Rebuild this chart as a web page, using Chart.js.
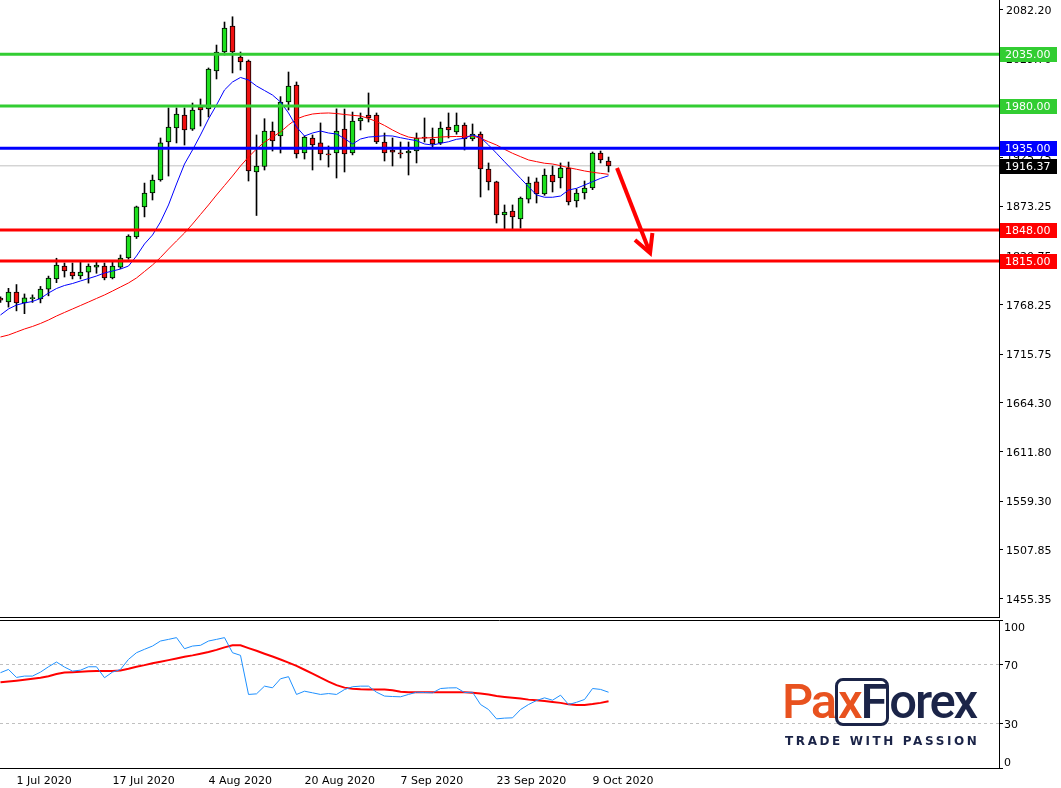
<!DOCTYPE html>
<html>
<head>
<meta charset="utf-8">
<script src="https://cdn.jsdelivr.net/npm/chart.js@4.4.1/dist/chart.umd.min.js"></script>
<style>
  html, body { margin: 0; padding: 0; background: #fff; }
  #wrap { position: relative; width: 1061px; height: 788px; overflow: hidden; }
  #main { position: absolute; left: 0; top: 0; }
  #osc { position: absolute; left: 0; top: 620px; }
  #logo { position: absolute; left: 782px; top: 674px; font: 500 49px Roboto, sans-serif; letter-spacing: -2.2px; line-height: 56px; white-space: nowrap; }
  #logo .o { color: #e8521f; }
  #logo .n { color: #1b2448; }
  #logo .box { display: inline-block; border: 3px solid #1b2448; border-radius: 8px; line-height: 42px; padding: 0 1px 0 0; }
  #tag { position: absolute; left: 785px; top: 734px; font: bold 12px "DejaVu Sans", sans-serif; letter-spacing: 2.6px; color: #1b2448; white-space: nowrap; }
</style>
</head>
<body>
<div id="wrap">
  <canvas id="main" width="1061" height="618"></canvas>
  <canvas id="osc" width="1061" height="168"></canvas>
  <div id="logo"><span class="o">Pa</span><span class="box"><span class="o">x</span><span class="n">F</span></span><span class="n">orex</span></div>
  <div id="tag">TRADE WITH PASSION</div>
</div>
<script>
// daily XAUUSD bars, 29 Jun 2020 .. 13 Oct 2020
const barOpen = [1775.5, 1771.5, 1782, 1770.5, 1775, 1774.6, 1785.2, 1795.9, 1809.7, 1803.3,
  1799.1, 1803.3, 1808.6, 1809.7, 1797, 1808.6, 1818.3, 1840.6, 1872.6, 1887.4,
  1901.3, 1941.7, 1956.6, 1970.4, 1955.5, 1978.9, 1976.8, 2017.3, 2037.5, 2065.2,
  2032.2, 2027.9, 1909.8, 1915.6, 1953.4, 1948.1, 1984.3, 2002.4, 1930, 1946,
  1940.7, 1928.5, 1930, 1955.5, 1930, 1964.1, 1970.4, 1970.4, 1941.7, 1933.2,
  1930, 1930, 1932.1, 1947, 1944.9, 1940.7, 1957.7, 1952.4, 1959.8, 1944.9,
  1950.2, 1913, 1899.2, 1864.1, 1868.3, 1859.8, 1881, 1899.2, 1886.4, 1906.6,
  1903.4, 1914, 1879, 1887.4, 1892.8, 1930, 1921.5];
const barHigh = [1777, 1786, 1790, 1780, 1779, 1788, 1799, 1818, 1813, 1813,
  1814, 1812, 1814, 1813, 1814, 1821.5, 1843, 1873.5, 1898, 1906.6,
  1946, 1978, 1978, 1978, 1983.2, 1987.5, 2020.5, 2044.9, 2069.4, 2075,
  2037.5, 2029, 1949.2, 1966.5, 1963, 1990, 2016.2, 2005.6, 1948, 1949.2,
  1962, 1937.5, 1977, 1976.8, 1973.6, 1972.6, 1993.9, 1972.6, 1951.3, 1946,
  1941.7, 1941.7, 1951.3, 1967.3, 1956.6, 1963, 1972.6, 1972.6, 1962, 1960.9,
  1952.4, 1919.4, 1900, 1874.7, 1874.7, 1883.2, 1904.5, 1903.4, 1913, 1916.2,
  1919.4, 1920.4, 1891.7, 1900.2, 1931.1, 1932.1, 1925.7];
const barLow = [1771, 1766, 1762, 1759, 1771, 1770.5, 1778, 1792, 1798, 1796,
  1796, 1791.6, 1802, 1795, 1796, 1807, 1817, 1839, 1862, 1880,
  1900, 1905.5, 1940.7, 1938.5, 1954, 1958.7, 1968.3, 2008.8, 2034.3, 2015.2,
  2018.3, 1900.2, 1863.5, 1911.9, 1932.1, 1930, 1975.8, 1924.7, 1923.6, 1911.9,
  1922.6, 1915.1, 1903.4, 1909.8, 1928, 1954.5, 1963, 1940, 1921.5, 1916.2,
  1924.7, 1906.6, 1919.4, 1941.7, 1936.4, 1939, 1946, 1950, 1933.2, 1943,
  1883.2, 1890.6, 1855.5, 1849.1, 1849.1, 1850, 1876.8, 1876.8, 1885, 1888.5,
  1892.8, 1874.7, 1872.5, 1881, 1891, 1919.4, 1909.8];
const barClose = [1773.5, 1782, 1770.5, 1775.8, 1775.3, 1785.2, 1797, 1810.8, 1804.4, 1799.1,
  1803.3, 1809.7, 1810.8, 1797, 1809.7, 1818.3, 1841.7, 1872.6, 1887.4, 1901.3,
  1940.7, 1957.7, 1971.5, 1954.5, 1975.8, 1975.8, 2019.4, 2037.5, 2063, 2037.5,
  2026.9, 1910.9, 1916.2, 1953.4, 1942.8, 1984.3, 2001.3, 1929, 1947, 1938.5,
  1929, 1928, 1953.4, 1929, 1964, 1967.3, 1967.3, 1941.7, 1930, 1931,
  1929, 1932.1, 1946, 1945.9, 1939.6, 1956.6, 1954.5, 1959.8, 1944.9, 1950.2,
  1913, 1899.2, 1864.1, 1867.2, 1861.9, 1882.1, 1898.1, 1886.4, 1906.6, 1899.2,
  1914, 1877.9, 1887.4, 1892.8, 1930, 1922.6, 1916.37];

// moving averages on price (blue fast, red slow)
const maFast = [1757.6, 1764, 1768.2, 1770.4, 1772, 1775.2, 1781, 1785.8, 1789, 1791.1,
  1793.8, 1796.4, 1799.1, 1802.3, 1804.4, 1806.5, 1809.7, 1820.4, 1833.2, 1842.7,
  1856.6, 1874.7, 1897, 1918.3, 1933.2, 1949.2, 1966.2, 1981.1, 1997.1, 2005.6,
  2010.4, 2007.7, 2001.3, 1996.5, 1991.7, 1984.3, 1972.6, 1957.7, 1948.1, 1951.3,
  1953.4, 1951.3, 1950.2, 1945.4, 1939.6, 1944.9, 1947, 1947.6, 1948.4, 1948.1,
  1946.3, 1944.6, 1943.1, 1939.6, 1938.5, 1940.3, 1942, 1944.6, 1945.7, 1949.2,
  1946.5, 1938.5, 1929.7, 1920.7, 1911.9, 1903, 1894.1, 1885.3, 1882.9, 1882.9,
  1884.2, 1890.6, 1892.4, 1895.9, 1899.5, 1903, 1905.8];
const maSlow = [1734.2, 1736.3, 1739.5, 1742.7, 1745.4, 1748.6, 1752.3, 1756.5, 1760.3, 1764,
  1767.7, 1771.4, 1775.2, 1778.9, 1783.1, 1787.4, 1791.7, 1797, 1803.9, 1810.8,
  1818.8, 1827.8, 1836.4, 1844.9, 1854.4, 1864.6, 1874.7, 1885.3, 1895.4, 1905.5,
  1916.2, 1925.7, 1934.3, 1941.7, 1947, 1952.4, 1959.8, 1966.2, 1969.4, 1971.5,
  1972.3, 1972.6, 1972, 1971, 1970.1, 1969.4, 1966.7, 1963.5, 1959.3, 1954.5,
  1950.2, 1947, 1945.7, 1946, 1946.3, 1947, 1947.4, 1947.6, 1947.4, 1948.1,
  1945.7, 1942, 1938.5, 1933.9, 1929.7, 1926.1, 1922.6, 1920.8, 1919.1, 1918.3,
  1916.5, 1914.4, 1912.7, 1910.9, 1909.5, 1908.4, 1907.3];

// oscillator panel
const oscMain = [64.4, 66.6, 61.2, 62.1, 62.1, 64.8, 68.4, 71.6, 68.2, 65.5,
  66.1, 68.4, 68.4, 61, 64.8, 66.6, 73.4, 77.9, 80.2, 82.4,
  85.8, 86.9, 88.1, 80.6, 82.4, 82.9, 85.8, 86.9, 88.1, 77.9,
  76.1, 49.7, 50.1, 55.3, 54.2, 60.3, 61.7, 49.7, 51.9, 50.8,
  49.7, 50.3, 49.7, 53, 54.9, 55.3, 55.3, 51.2, 48.6, 48.3,
  48.1, 49.7, 51.2, 51, 50.8, 53.7, 54.1, 54.2, 51, 51.2,
  42.9, 39.5, 33.2, 33.7, 33.9, 39.5, 42.9, 45.6, 47.4, 45.8,
  49.2, 42.9, 44.4, 46.3, 53.7, 53.1, 51.2];
const oscSignal = [58, 58.5, 59, 59.6, 60.3, 61, 62, 63.5, 64.5, 64.7,
  65, 65.3, 65.5, 65.5, 65.6, 65.9, 67, 68.4, 69.5, 70.8,
  71.8, 72.9, 74, 75.2, 76.1, 77.2, 78.4, 79.8, 81.5, 82.9,
  82.9, 81, 79.2, 77.2, 75.3, 73.3, 71.2, 69, 66.4, 63.8,
  61, 58.4, 56, 54.3, 53.6, 53.2, 53.1, 53.1, 53, 52.5,
  51.5, 51.2, 51.2, 51.2, 51.2, 51.2, 51.2, 51.2, 51.2, 50.8,
  50.3, 49.6, 48.6, 48, 47.5, 47, 46.2, 45.7, 45.2, 44.6,
  44, 43, 42.5, 42.6, 43.2, 44, 45.1];

const priceTicks = [2082.20, 2029.70, 1977.20, 1925.75, 1873.25, 1820.75, 1768.25,
  1715.75, 1664.30, 1611.80, 1559.30, 1507.85, 1455.35];
const oscTicks = [0, 30, 70, 100];
const oscLevels = [30, 70];
const dateTickIndex = [2, 14, 26, 38, 50, 62, 74];
const dateTickLabels = ['1 Jul 2020', '17 Jul 2020', '4 Aug 2020', '20 Aug 2020',
  '7 Sep 2020', '23 Sep 2020', '9 Oct 2020'];

const resistanceLevels = [2035.00, 1980.00];
const pivotLevel = 1935.00;
const supportLevels = [1848.00, 1815.00];
const lastPrice = 1916.37;
const arrowShaft = [[77.06, 1914.05], [81.19, 1823.6]];
const arrowHead = [[79.3, 1837.5], [81.19, 1823.6], [81.48, 1844.8]];

const GREEN = '#32cd32';
const BLUE = '#0000ff';
const RED = '#ff0000';
const FONT = { family: '"DejaVu Sans", sans-serif', size: 11 };
const X_MIN = -0.06, X_MAX = 124.8;

const pts = arr => arr.map((v, i) => ({ x: i, y: v }));
const hline = (v, color, w) => ({
  type: 'line', data: [{ x: X_MIN - 1, y: v }, { x: X_MAX + 1, y: v }],
  borderColor: color, borderWidth: w, pointRadius: 0
});
// no extra padding for the end labels, MT4 lets them sit on the frame
const noEdgePadding = s => { s.width = 62; s.paddingTop = 0; s.paddingBottom = 0; };

const priceTags = {
  id: 'priceTags',
  afterDraw(chart) {
    const y = chart.scales.y, ctx = chart.ctx;
    const tags = [
      [resistanceLevels[0], GREEN], [resistanceLevels[1], GREEN],
      [pivotLevel, BLUE], [lastPrice, '#000'],
      [supportLevels[0], RED], [supportLevels[1], RED]
    ];
    ctx.save();
    ctx.font = '11px "DejaVu Sans"';
    ctx.textBaseline = 'middle';
    tags.forEach(([v, c]) => {
      const py = Math.round(y.getPixelForValue(v));
      ctx.fillStyle = c;
      ctx.fillRect(y.left + 1, py - 7, 57, 15);
      ctx.fillStyle = '#fff';
      ctx.fillText(v.toFixed(2), y.left + 6, py + 1);
    });
    ctx.restore();
  }
};

const topBorder = {
  id: 'topBorder',
  afterDraw(chart) {
    const a = chart.chartArea, ctx = chart.ctx;
    ctx.save();
    ctx.strokeStyle = '#000';
    ctx.lineWidth = 1;
    ctx.beginPath();
    ctx.moveTo(0, a.top + 0.5);
    ctx.lineTo(a.right, a.top + 0.5);
    ctx.stroke();
    ctx.restore();
  }
};

const xHidden = {
  type: 'linear', min: X_MIN, max: X_MAX, offset: false,
  ticks: { display: false },
  grid: { display: false, drawTicks: false },
  border: { display: true, color: '#000' },
  afterFit: s => { s.height = 1; }
};

new Chart(document.getElementById('main'), {
  type: 'bar',
  data: {
    datasets: [
      { type: 'line', data: arrowShaft.map(p => ({ x: p[0], y: p[1] })), borderColor: RED, borderWidth: 4, pointRadius: 0 },
      { type: 'line', data: arrowHead.map(p => ({ x: p[0], y: p[1] })), borderColor: RED, borderWidth: 4, pointRadius: 0, borderJoinStyle: 'miter' },
      hline(resistanceLevels[0], GREEN, 3),
      hline(resistanceLevels[1], GREEN, 3),
      hline(pivotLevel, BLUE, 3),
      hline(supportLevels[0], RED, 3),
      hline(supportLevels[1], RED, 3),
      { type: 'line', data: pts(maFast), borderColor: BLUE, borderWidth: 1, pointRadius: 0 },
      { type: 'line', data: pts(maSlow), borderColor: RED, borderWidth: 1, pointRadius: 0 },
      {
        data: barOpen.map((o, i) => ({ x: i, y: [o, barClose[i]] })),
        backgroundColor: barOpen.map((o, i) => barClose[i] >= o ? '#1ee01e' : '#f01010'),
        borderColor: '#000', borderWidth: 1, borderSkipped: false,
        barThickness: 5, grouped: false, minBarLength: 1
      },
      {
        data: barLow.map((l, i) => ({ x: i, y: [l, barHigh[i]] })),
        backgroundColor: '#000', borderWidth: 0,
        barThickness: 1, grouped: false
      },
      hline(lastPrice, '#c0c0c0', 1)
    ]
  },
  options: {
    responsive: false,
    animation: false,
    events: [],
    layout: { padding: 0, autoPadding: false },
    plugins: { legend: { display: false }, tooltip: { enabled: false } },
    scales: {
      x: xHidden,
      y: {
        position: 'right',
        min: 1436.19, max: 2092.84,
        afterBuildTicks: s => { s.ticks = priceTicks.map(v => ({ value: v })); },
        afterFit: noEdgePadding,
        ticks: { color: '#000', font: FONT, padding: 3, labelOffset: 1, callback: v => v.toFixed(2) },
        grid: { drawOnChartArea: false, tickLength: 4, tickColor: '#000' },
        border: { display: true, color: '#000' }
      }
    }
  },
  plugins: [priceTags]
});

new Chart(document.getElementById('osc'), {
  type: 'line',
  data: {
    datasets: [
      { data: pts(oscMain), borderColor: '#1e90ff', borderWidth: 1, pointRadius: 0 },
      { data: pts(oscSignal), borderColor: RED, borderWidth: 2, pointRadius: 0 }
    ]
  },
  options: {
    responsive: false,
    animation: false,
    events: [],
    layout: { padding: 0, autoPadding: false },
    plugins: { legend: { display: false }, tooltip: { enabled: false } },
    scales: {
      x: {
        type: 'linear', min: X_MIN, max: X_MAX, offset: false,
        afterBuildTicks: s => { s.ticks = dateTickIndex.map(v => ({ value: v })); },
        afterFit: s => { s.height = 20; s.paddingLeft = 0; s.paddingRight = 0; },
        ticks: {
          color: '#000', font: FONT, padding: 7, align: 'start', maxRotation: 0, autoSkip: false,
          callback: v => dateTickLabels[dateTickIndex.indexOf(v)]
        },
        grid: { display: false, drawTicks: false },
        border: { display: true, color: '#000' }
      },
      y: {
        position: 'right',
        min: 0, max: 100,
        afterBuildTicks: s => { s.ticks = oscTicks.map(v => ({ value: v })); },
        afterFit: noEdgePadding,
        ticks: {
          color: '#000', font: FONT, padding: 1, labelOffset: 2,
          callback: v => v === 100 ? ['', '100'] : v === 0 ? ['0', ''] : String(v)
        },
        grid: {
          drawOnChartArea: true, tickLength: 4, tickColor: '#000',
          color: c => oscLevels.includes(c.tick && c.tick.value) ? '#c0c0c0' : 'rgba(0,0,0,0)'
        },
        border: { display: true, color: '#000', dash: [3, 3] }
      }
    }
  },
  plugins: [topBorder]
});
</script>
</body>
</html>
